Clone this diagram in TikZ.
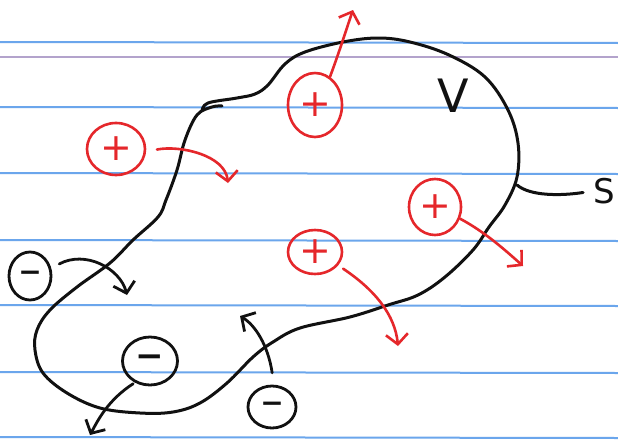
\documentclass[tikz,border=0pt]{standalone}
\usepackage{fontspec}
\setmainfont{DejaVu Sans}
\usetikzlibrary{shapes.geometric,arrows.meta}
\definecolor{inkred}{HTML}{E5272B}
\definecolor{inkblack}{HTML}{111111}
\definecolor{ruleblue}{HTML}{6BA6EC}
\definecolor{rulepurple}{HTML}{B3A3CC}
\begin{document}
\begin{tikzpicture}[x=1pt,y=-1pt,
  poscharge/.style={ellipse,draw=inkred,line width=2.6pt,text=inkred,inner sep=0pt,font=\fontsize{38}{38}\selectfont},
  negcharge/.style={ellipse,draw=inkblack,line width=2.8pt,text=inkblack,inner sep=0pt,font=\fontsize{28}{28}\selectfont\bfseries},
  redarrow/.style={draw=inkred,line width=2.6pt,line cap=round,-{Straight Barb[length=10pt,width=22pt,line width=2.6pt]}},
  blackarrow/.style={draw=inkblack,line width=2.8pt,line cap=round,-{Straight Barb[length=10pt,width=22pt,line width=2.8pt]}},
  rulerline/.style={draw=ruleblue,line width=2pt},
  ink/.style={draw=inkblack,line width=3pt,line cap=round,line join=round},
  letter/.style={text=inkblack,inner sep=0pt},
]
\fill[white] (0,0) rectangle (618,439);
\useasboundingbox (0,0) rectangle (618,439);
% ruled paper
\foreach \yy in {42,107,173,240,305,372,437}{
  \draw[rulerline] (0,\yy) -- (618,\yy+1);
}
\draw[draw=rulepurple,line width=1.8pt] (0,57) -- (618,57);

% closed surface S
\draw[ink] plot[smooth,tension=0.6] coordinates {
 (202,111) (208,103) (237,98) (255,94) (268,85) (285,64) (305,52) (343,42)
 (378,38) (410,42) (449,55) (485,77) (508,110) (518,143) (517,177) (505,205)
 (489,227) (473,250) (445,277) (418,295) (388,305) (350,317) (300,328)
 (273,342) (253,357) (227,383) (200,403) (173,412) (140,413) (100,408)
 (67,393) (43,373) (35,350) (37,330) (50,310) (77,287) (110,263) (133,240)
 (158,217) (166,200) (177,170) (185,140) (197,115) (212,107) (222,106)};

% labels
\node[letter,font=\fontsize{46}{46}\selectfont] (V) at (453,96) {V};
\node[letter,font=\fontsize{34}{34}\selectfont,anchor=west] (S) at (593,191) {S};
\coordinate (Sfoot) at (517,185);
\draw[ink,shorten >=10pt] (Sfoot) .. controls (530,196) and (560,196) .. (S.west);

% positive charges
\node[poscharge,minimum width=54pt,minimum height=64pt] (p1) at (315,105) {+};
\node[poscharge,minimum width=58pt,minimum height=52pt] (p2) at (116,149) {+};
\node[poscharge,minimum width=52pt,minimum height=56pt] (p3) at (435,207) {+};
\node[poscharge,minimum width=54pt,minimum height=44pt] (p4) at (315,252) {+};

\coordinate (p1t) at (353,10);
\coordinate (p2t) at (228,183);
\coordinate (p3t) at (523,266);
\coordinate (p4t) at (398,346);
\draw[redarrow] (p1.62) .. controls (340,50) and (346,30) .. (p1t);
\draw[redarrow,shorten <=11pt] (p2.-5) .. controls (180,145) and (225,155) .. (p2t);
\draw[redarrow] (p3.-25) .. controls (485,232) and (505,250) .. (p3t);
\draw[redarrow,shorten <=6pt] (p4.-30) .. controls (375,290) and (395,315) .. (p4t);

% negative charges
\node[negcharge,minimum width=42pt,minimum height=48pt] (n1) at (30,276) {−};
\node[negcharge,minimum width=55pt,minimum height=48pt,font=\fontsize{34}{34}\selectfont\bfseries] (n2) at (150,361) {−};
\node[negcharge,minimum width=48pt,minimum height=42pt] (n3) at (272,407) {−};

\coordinate (n1t) at (127,295);
\coordinate (n2t) at (90,435);
\coordinate (n3t) at (240,316);
\draw[blackarrow,shorten <=9pt] (n1.20) .. controls (85,250) and (120,268) .. (n1t);
\draw[blackarrow,shorten <=2pt] (n2.-125) .. controls (108,400) and (98,420) .. (n2t);
\draw[blackarrow,shorten <=12pt] (n3.85) .. controls (268,345) and (255,325) .. (n3t);
\end{tikzpicture}
\end{document}
